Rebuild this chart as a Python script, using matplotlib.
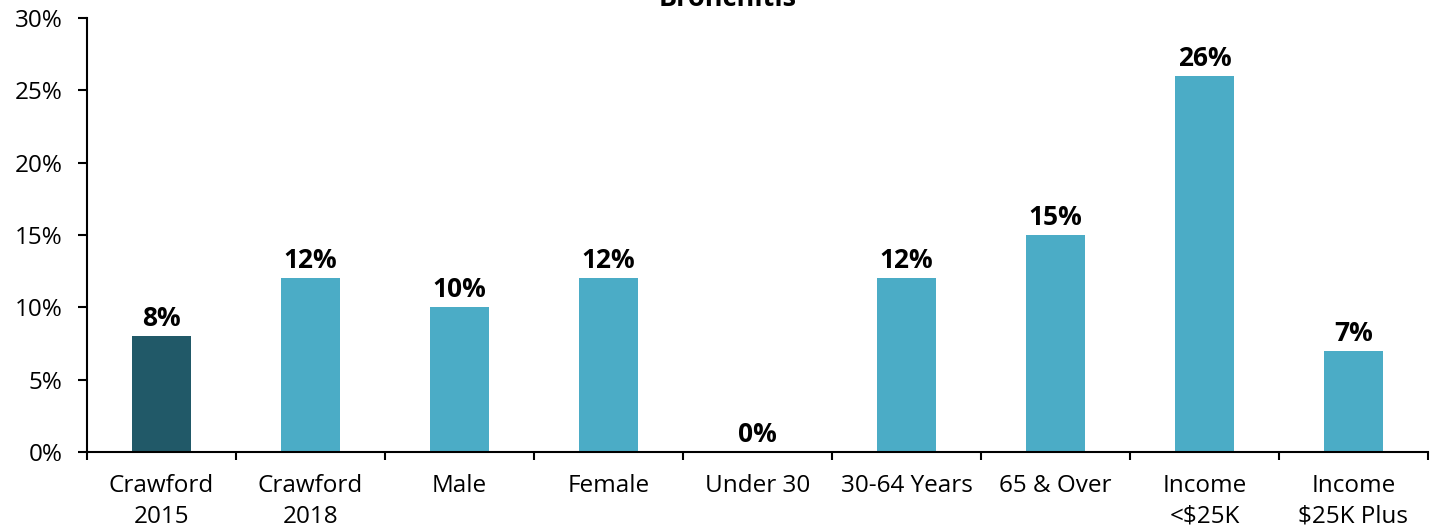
import matplotlib.pyplot as plt
from matplotlib.ticker import FuncFormatter

categories = ["Crawford\n2015", "Crawford\n2018", "Male", "Female", "Under 30",
              "30-64 Years", "65 & Over", "Income\n<$25K", "Income\n$25K Plus"]
values = [8, 12, 10, 12, 0, 12, 15, 26, 7]
colors = ["#215968"] + ["#4BACC6"] * 8

plt.rcParams["font.family"] = ["Open Sans", "DejaVu Sans"]

fig = plt.figure(figsize=(14.36, 5.29), dpi=100)
ax = fig.add_axes([87 / 1436, 1 - 452 / 529, (1428 - 87) / 1436, 434 / 529])

x = list(range(len(categories)))
bars = ax.bar(x, values, width=0.4, color=colors)

for xi, v in zip(x, values):
    ax.annotate(f"{v}%", (xi, v), xytext=(0, 3), textcoords="offset points",
                ha="center", va="bottom", fontsize=19, fontweight="bold")

ax.set_xlim(-0.5, len(categories) - 0.5)
ax.set_ylim(0, 30)
ax.set_yticks(range(0, 31, 5))
ax.yaxis.set_major_formatter(FuncFormatter(lambda v, p: f"{v:.0f}%"))

# category labels sit between the boundary ticks
ax.set_xticks([i - 0.5 for i in range(len(categories) + 1)])
ax.set_xticklabels([])
ax.set_xticks(x, minor=True)
ax.set_xticklabels(categories, minor=True, fontsize=17.5, linespacing=1.35)
ax.tick_params(axis="x", which="minor", length=0, pad=16)
ax.tick_params(axis="x", which="major", length=6, width=1.5, direction="out")
ax.tick_params(axis="y", length=6.5, width=1.5, labelsize=17.5, pad=11)

for s in ["top", "right"]:
    ax.spines[s].set_visible(False)
for s in ["left", "bottom"]:
    ax.spines[s].set_linewidth(1.5)

fig.text(728 / 1436, 1 - 6 / 529, "Bronchitis", ha="center", va="baseline",
         fontsize=19.5, fontweight="bold")

fig.savefig("out.png", dpi=100)
